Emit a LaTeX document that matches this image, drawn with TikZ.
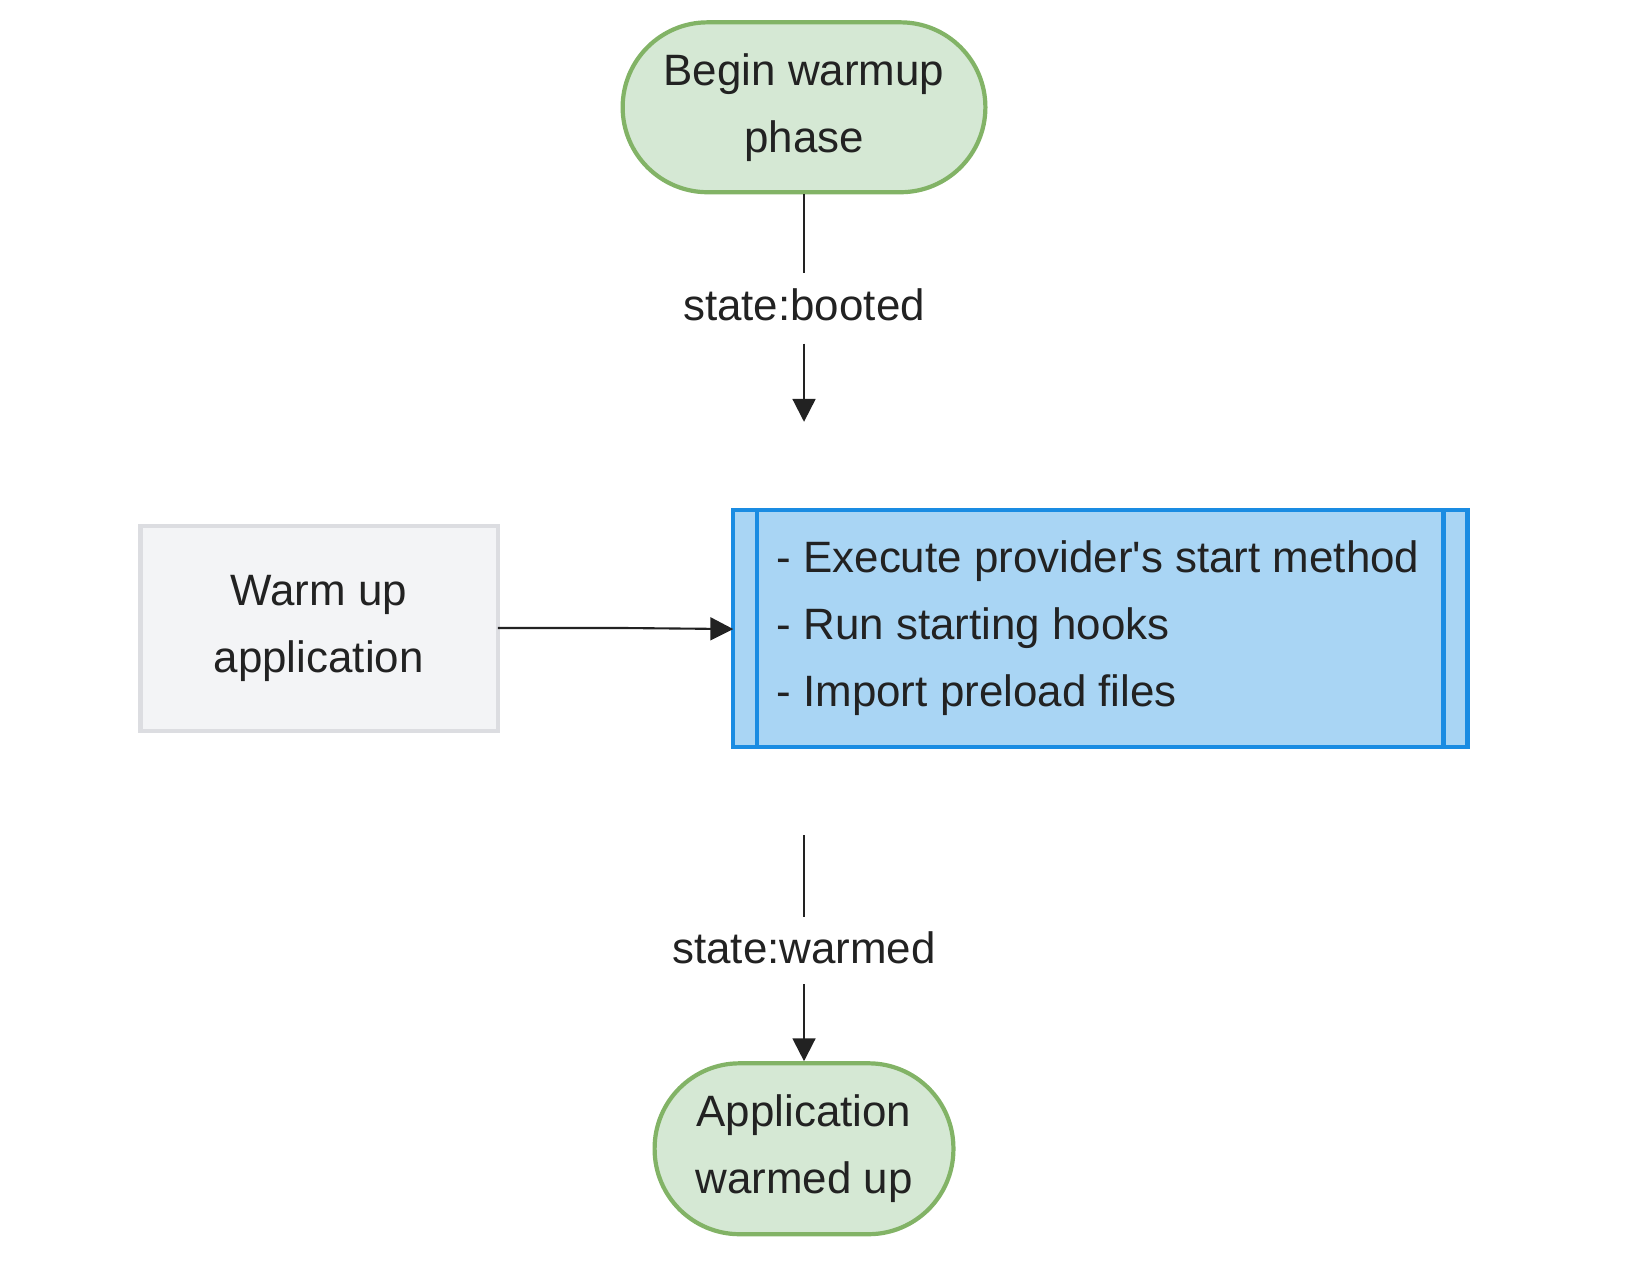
\documentclass[tikz,border=0pt]{standalone}
\usepackage{fontspec}
\setmainfont{Liberation Sans}
\usetikzlibrary{arrows.meta}
\definecolor{termfill}{HTML}{D5E8D4}
\definecolor{termline}{HTML}{82B366}
\definecolor{subfill}{HTML}{A9D5F4}
\definecolor{subline}{HTML}{1A8CE2}
\definecolor{boxfill}{HTML}{F3F4F6}
\definecolor{boxline}{HTML}{DCDDE1}
\definecolor{ink}{HTML}{222222}
\tikzset{
  terminal/.style={draw=termline,fill=termfill,line width=1.2pt,rounded corners=0.85cm,align=center,text=ink},
  flow/.style={draw=ink,line width=0.6pt},
  tip/.style={-{Triangle[length=6.5pt,width=6.5pt]}},
  edgelabel/.style={text=ink,inner sep=0pt}
}
\begin{document}
\begin{tikzpicture}[x=0.010417cm,y=-0.010417cm]
\fontsize{12.5pt}{19.1pt}\selectfont
\useasboundingbox (0,0) rectangle (1567,1224);
% terminals
\node[terminal,minimum width=3.63cm,minimum height=1.70cm] (begin) at (772,103) {Begin warmup\\phase};
\node[terminal,minimum width=2.99cm,minimum height=1.71cm] (done) at (772,1103) {Application\\warmed up};
% left task
\draw[draw=boxline,fill=boxfill,line width=1.2pt] (135,505) rectangle (478,702);
\node[align=center,text=ink] (warm) at (306,603) {Warm up\\application};
\coordinate (warmE) at (478,603);
% subroutine
\draw[draw=subline,fill=subfill,line width=1.2pt] (704,490) rectangle (1409,717);
\draw[subline,line width=1.2pt] (727,490) -- (727,717) (1386,490) -- (1386,717);
\node[align=left,text=ink,anchor=west,inner sep=0pt] (steps) at (745,603) {- Execute provider\textquotesingle s start method\\- Run starting hooks\\- Import preload files};
\coordinate (subW) at (704,604);
% connectors
\node[edgelabel] (booted) at (772,293) {state:booted};
\coordinate (bootTop) at (772,330);
\coordinate (bootEnd) at (772,405);
\draw[flow] (begin.south) -- (772,262);
\draw[flow,tip] (bootTop) -- (bootEnd);
\node[edgelabel] (warmed) at (772,910) {state:warmed};
\coordinate (warmTop) at (772,802);
\draw[flow] (warmTop) -- (772,880);
\draw[flow,tip] (772,945) -- (done.north);
\draw[flow,tip] (warmE) -- (600,603) -- (subW);
\end{tikzpicture}
\end{document}
